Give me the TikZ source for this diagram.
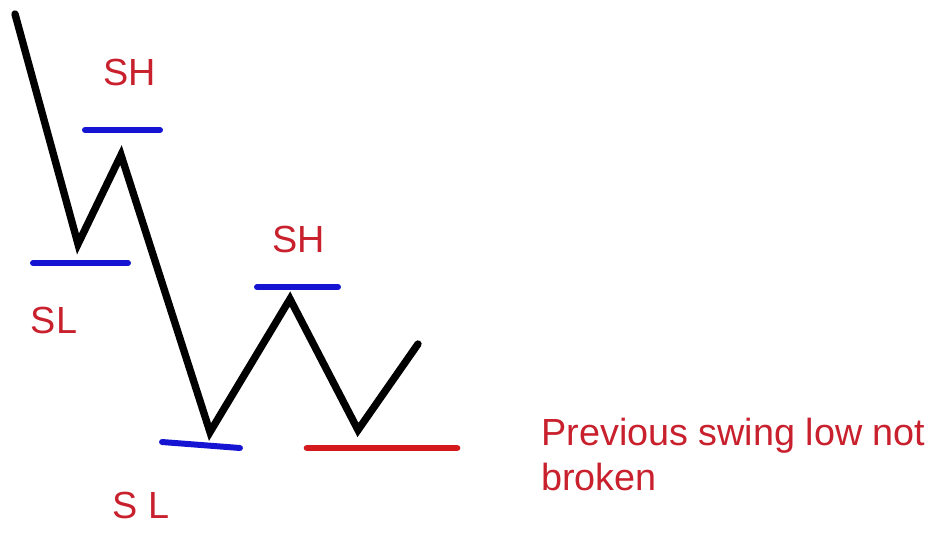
\documentclass[tikz,border=0pt]{standalone}
\usepackage{fontspec}
\setmainfont{Liberation Sans}
\usetikzlibrary{calc}
\definecolor{swingblue}{HTML}{1414D2}
\definecolor{swingred}{HTML}{D41A1A}
\definecolor{labelred}{HTML}{C8202C}
\tikzset{
  price/.style={black, line width=4.2pt, line join=miter, line cap=round},
  level/.style={swingblue, line width=3.4pt, line cap=round},
  hold/.style={swingred, line width=3.8pt, line cap=round},
  swinglabel/.style={labelred, font=\fontsize{21.5}{25}\selectfont, inner sep=0pt}
}

\begin{document}
\begin{tikzpicture}[x=0.02cm, y=-0.02cm]
  \useasboundingbox (0,0) rectangle (936,534);

  % price path
  \coordinate (p0) at (15,14);
  \coordinate (p1) at (78,244);
  \coordinate (p2) at (121,155);
  \coordinate (p3) at (210,432);
  \coordinate (p4) at (290,299);
  \coordinate (p5) at (358,430);
  \coordinate (p6) at (418,344);
  \draw[price] (p0) -- (p1) -- (p2) -- (p3) -- (p4) -- (p5) -- (p6);

  % swing levels
  \draw[level] (85,130) -- (160,130);
  \draw[level] (33,263) -- (128,263);
  \draw[level] (162,442) -- (240,448);
  \draw[level] (257,287) -- (338,287);
  \draw[hold] (307,448) -- (457,448);

  % labels
  \node[swinglabel] (sh1) at (130,72) {SH};
  \node[swinglabel] (sl1) at (54,320) {SL};
  \node[swinglabel] (sh2) at (299,239) {SH};
  \node[swinglabel] (sl2) at (141,505) {S L};
  \node[swinglabel, anchor=north west, align=left,
        font=\fontsize{21.5}{25.5}\selectfont] (note) at (541,418)
    {Previous swing low not\\broken};
\end{tikzpicture}
\end{document}
